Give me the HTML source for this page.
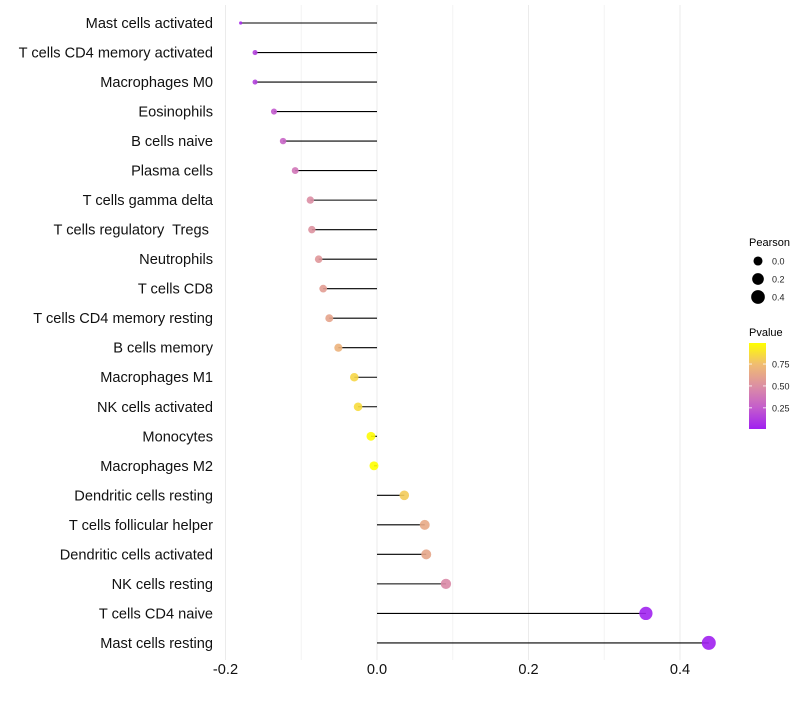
<!DOCTYPE html>
<html><head><meta charset="utf-8"><style>
body{margin:0;background:#fff;}
svg text{font-family:"Liberation Sans",sans-serif;white-space:pre;}
</style></head><body>
<svg id="chart" width="800" height="700" viewBox="0 0 800 700" xmlns="http://www.w3.org/2000/svg">
<g id="grid"></g>
<g id="marks"></g>
<g id="ylabels"></g>
<g id="xlabels"></g>
<g>
<text x="749" y="246" font-size="11" fill="#000">Pearson</text>
<g id="sizeleg"></g>
</g>
<g>
<text x="749" y="336" font-size="11" fill="#000">Pvalue</text>
<defs><linearGradient id="pg" x1="0" y1="1" x2="0" y2="0">
<stop offset="0" stop-color="#A020F0"/><stop offset="0.25" stop-color="#C45DCC"/><stop offset="0.5" stop-color="#DC8FA3"/><stop offset="0.75" stop-color="#F0BC72"/><stop offset="1" stop-color="#FFFF00"/>
</linearGradient></defs>
<rect x="749" y="343" width="17" height="86" fill="url(#pg)"/>
<g id="cticks"></g>
</g>
</svg>
<script>
const categories=["Mast cells activated","T cells CD4 memory activated","Macrophages M0","Eosinophils","B cells naive","Plasma cells","T cells gamma delta","T cells regulatory  Tregs ","Neutrophils","T cells CD8","T cells CD4 memory resting","B cells memory","Macrophages M1","NK cells activated","Monocytes","Macrophages M2","Dendritic cells resting","T cells follicular helper","Dendritic cells activated","NK cells resting","T cells CD4 naive","Mast cells resting"];
const pearson=[-0.180,-0.161,-0.161,-0.136,-0.124,-0.108,-0.088,-0.086,-0.077,-0.071,-0.063,-0.051,-0.030,-0.025,-0.008,-0.004,0.036,0.063,0.065,0.091,0.355,0.438];
const pvalue=[0.06,0.15,0.15,0.25,0.3,0.38,0.5,0.52,0.55,0.58,0.62,0.7,0.84,0.86,0.98,0.99,0.8,0.65,0.63,0.48,0.03,0.02];
const xTicks=[-0.2,0,0.2,0.4];
const xTickLabels=["-0.2","0.0","0.2","0.4"];
const xMinor=[-0.1,0.1,0.3];
const sizeLegend=[0.0,0.2,0.4];
const colorTicks=[0.25,0.5,0.75];

const NS="http://www.w3.org/2000/svg";
function mk(t,a,p){const e=document.createElementNS(NS,t);for(const k in a)e.setAttribute(k,a[k]);p.appendChild(e);return e;}
const X=v=>377+v*757.5;
const Y=i=>23+i*29.52;
const pmin=Math.min(...pearson),pmax=Math.max(...pearson);
const R=v=>1.6+5.4*Math.sqrt(Math.max(0,(v-pmin)/(pmax-pmin)));
const stops=[[0,[160,32,240]],[0.25,[196,93,204]],[0.5,[220,143,163]],[0.75,[240,188,114]],[1,[255,255,0]]];
function col(p){const t=(p-0.02)/(0.99-0.02);const c=Math.max(0,Math.min(1,t));for(let i=1;i<stops.length;i++){if(c<=stops[i][0]){const a=stops[i-1],b=stops[i];const f=(c-a[0])/(b[0]-a[0]);return 'rgb('+a[1].map((v,k)=>Math.round(v+(b[1][k]-v)*f)).join(',')+')';}}return 'rgb(255,255,0)';}
const CY=p=>428-(p-0.02)/(0.99-0.02)*85;

const grid=document.getElementById('grid');
xMinor.forEach(v=>{const l=mk('line',{x1:X(v),x2:X(v),y1:5,y2:660,stroke:'#f3f3f3','stroke-width':1},grid);

});
xTicks.forEach(v=>{const l=mk('line',{x1:X(v),x2:X(v),y1:5,y2:660,stroke:'#ebebeb','stroke-width':1},grid);

});

const marks=document.getElementById('marks'),yl=document.getElementById('ylabels');
categories.forEach((c,i)=>{
const v=pearson[i],y=Y(i);
const s=mk('line',{x1:X(0),x2:X(v),y1:y,y2:y,stroke:'#000','stroke-width':1.1},marks);


const d=mk('circle',{cx:X(v),cy:y,r:R(v),fill:col(pvalue[i]),'fill-opacity':0.9},marks);


const t=mk('text',{x:213,y:y+5,'text-anchor':'end','font-size':14.6,fill:'#111'},yl);t.textContent=c;


});
const xl=document.getElementById('xlabels');
xTicks.forEach((v,i)=>{const t=mk('text',{x:X(v),y:674,'text-anchor':'middle','font-size':14.6,fill:'#111'},xl);t.textContent=xTickLabels[i];

});
const sl=document.getElementById('sizeleg');
sizeLegend.forEach((v,i)=>{const y=261+i*18;
const c=mk('circle',{cx:758,cy:y,r:R(v),fill:'#000'},sl);


const t=mk('text',{x:772,y:y+3.5,'font-size':9,fill:'#222'},sl);t.textContent=v.toFixed(1);

});
const ct=document.getElementById('cticks');
colorTicks.forEach(p=>{const y=CY(p);
mk('line',{x1:749,x2:752,y1:y,y2:y,stroke:'#fff','stroke-width':0.8},ct);
mk('line',{x1:763,x2:766,y1:y,y2:y,stroke:'#fff','stroke-width':0.8},ct);
const t=mk('text',{x:772,y:y+3.5,'font-size':9,fill:'#222'},ct);t.textContent=p.toFixed(2);

});
</script>
</body></html>
